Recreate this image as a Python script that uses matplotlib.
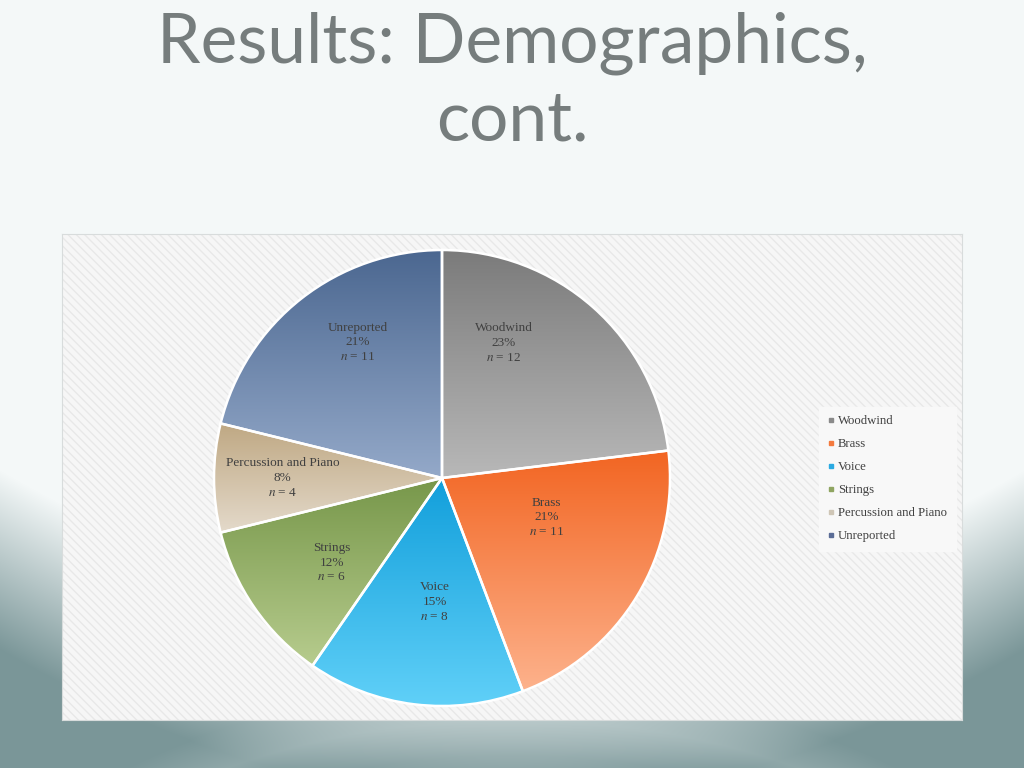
import numpy as np
import matplotlib
matplotlib.use("Agg")
import matplotlib.pyplot as plt
from matplotlib.patches import Rectangle
from matplotlib.lines import Line2D
from matplotlib.colors import to_rgb

categories = ["Woodwind", "Brass", "Voice", "Strings", "Percussion and Piano", "Unreported"]
counts = [12, 11, 8, 6, 4, 11]

# (dark top, light bottom) gradient colours per slice
top_colors = ["#7b7b7b", "#f26522", "#129fdb", "#77974a", "#bfa883", "#4b6790"]
bottom_colors = ["#b8b8b8", "#fdb28c", "#60d0f8", "#b7cc8e", "#e4dacb", "#94a9c9"]
legend_colors = ["#8a8a8a", "#f47a3e", "#2aaae2", "#8fa561", "#cfc6b6", "#5a6c96"]

# label placement tweaks (radius, angle shift from slice middle in degrees)
label_r = [0.65, 0.49, 0.545, 0.61, 0.70, 0.70]
label_shift = [17, 10.6, 3.6, 2.9, 0, -6.2]

plt.rcParams["mathtext.fontset"] = "stix"
serif = ["Liberation Serif", "DejaVu Serif"]
W, H = 1024, 768

fig = plt.figure(figsize=(10.24, 7.68), dpi=100)

# ---------------- SLIDE BACKGROUND ----------------
bg = fig.add_axes([0, 0, 1, 1])
bg.set_axis_off()
yy, xx = np.mgrid[0:H, 0:W]
u = (xx - W / 2) / (W / 2)
start = 470 + 150 * (1 - u ** 2)
t = np.clip((yy - start) / 180.0, 0, 1)
light = np.array(to_rgb("#f4f8f8"))
dark = np.array(to_rgb("#7a9698"))
img = light[None, None, :] * (1 - t[..., None]) + dark[None, None, :] * t[..., None]
# pale arc near the bottom middle
d = np.sqrt(((xx - W / 2) / 520.0) ** 2 + ((yy - 1010) / 290.0) ** 2)
glow = np.clip(1 - np.abs(d - 1.0) / 0.12, 0, 1) * 0.25
img = img * (1 - glow[..., None]) + np.array(to_rgb("#d0dcdc"))[None, None, :] * glow[..., None]
bg.imshow(img, extent=[0, W, H, 0], aspect="auto")
bg.set_xlim(0, W)
bg.set_ylim(H, 0)

title_font = ["Lato", "DejaVu Sans"]
fig.text(0.5, 1 - 43 / H, "Results: Demographics,", ha="center", va="center",
         fontsize=50, color="#767d7d", family=title_font)
fig.text(0.5, 1 - 121 / H, "cont.", ha="center", va="center",
         fontsize=50, color="#767d7d", family=title_font)

# ---------------- CHART BOX ----------------
plt.rcParams["hatch.linewidth"] = 1.0
box = fig.add_axes([62 / W, 1 - 720 / H, 900 / W, 486 / H])
box.set_xlim(0, 1)
box.set_ylim(0, 1)
box.set_xticks([])
box.set_yticks([])
box.add_patch(Rectangle((0, 0), 1, 1, facecolor="#f6f6f6", edgecolor="#e8e8e8",
                        hatch="\\\\\\\\", linewidth=0))
for s in box.spines.values():
    s.set_color("#d8dcdc")

# ---------------- PIE ----------------
R = 228
cx, cy = 442, 478
pie_ax = fig.add_axes([(cx - R) / W, (H - cy - R) / H, 2 * R / W, 2 * R / H])
wedges, _ = pie_ax.pie(counts, startangle=90, counterclock=False,
                       colors=top_colors, radius=1,
                       wedgeprops=dict(edgecolor="white", linewidth=1.8))
for w, c0, c1 in zip(wedges, top_colors, bottom_colors):
    ext = w.get_path().get_extents()
    grad = np.linspace(0, 1, 256)[:, None]
    a, b = np.array(to_rgb(c0)), np.array(to_rgb(c1))
    g = (a[None, :] * (1 - grad) + b[None, :] * grad)[:, None, :]
    im = pie_ax.imshow(g, extent=[ext.x0, ext.x1, ext.y0, ext.y1], aspect="auto",
                       interpolation="bilinear", zorder=w.get_zorder())
    im.set_clip_path(w)
    w.set_facecolor("none")
    w.set_zorder(w.get_zorder() + 0.5)

total = sum(counts)
angle = 90.0
for cat, n, r, sh in zip(categories, counts, label_r, label_shift):
    span = n / total * 360
    mid = np.deg2rad(angle - span / 2 + sh)
    angle -= span
    pie_ax.text(r * np.cos(mid), r * np.sin(mid),
                f"{cat}\n{round(100 * n / total)}%\n$n$ = {n}",
                ha="center", va="center", fontsize=9.5, color="#404040",
                family=serif, linespacing=1.3, zorder=5)
pie_ax.set_xlim(-1, 1)
pie_ax.set_ylim(-1, 1)
pie_ax.set_aspect("auto")
pie_ax.set_axis_off()

# ---------------- LEGEND ----------------
handles = [Line2D([0], [0], marker="s", linestyle="none", markersize=3.5,
                  markerfacecolor=c, markeredgecolor=c) for c in legend_colors]
leg = box.legend(handles, categories, loc="center left", bbox_to_anchor=(0.834, 0.496),
                 frameon=True, fancybox=False, framealpha=1, handlelength=0.5,
                 handletextpad=0.3, labelspacing=0.86, borderpad=0.7,
                 prop=dict(family=serif, size=9.2))
leg.get_frame().set_facecolor("#f8f8f8")
leg.get_frame().set_edgecolor("#f8f8f8")
for txt in leg.get_texts():
    txt.set_color("#404040")

fig.savefig("out.png", dpi=100)
